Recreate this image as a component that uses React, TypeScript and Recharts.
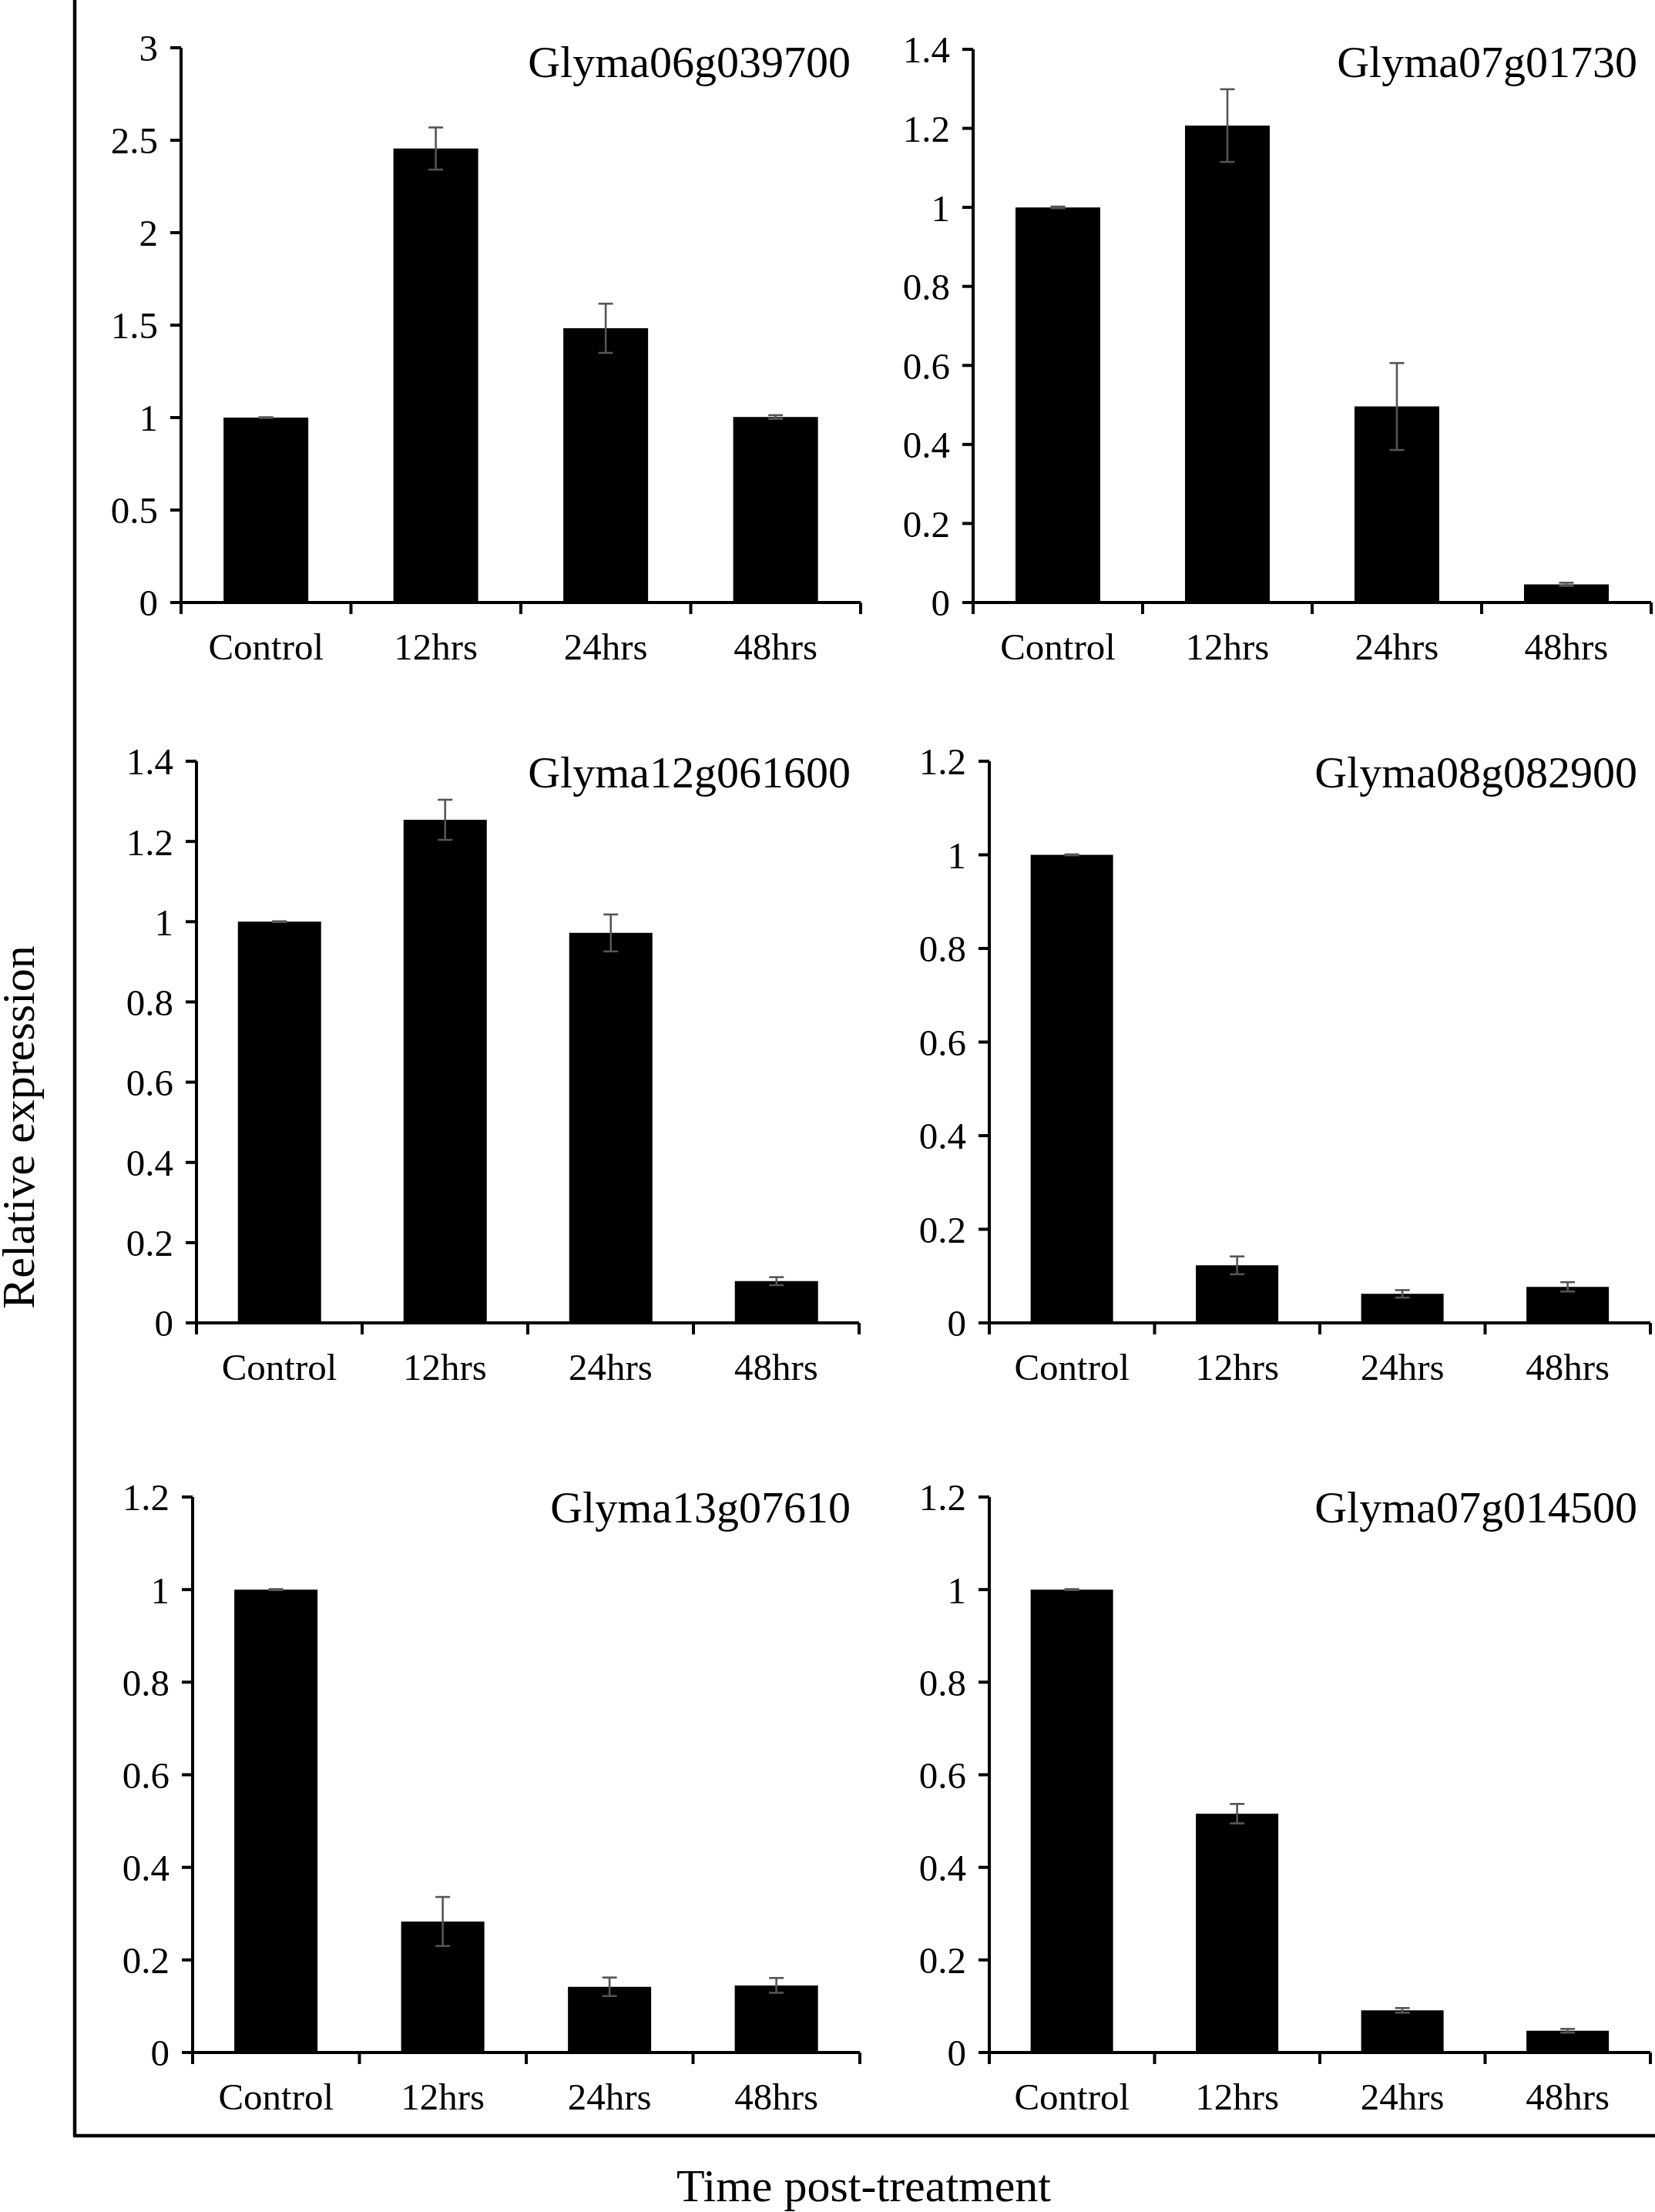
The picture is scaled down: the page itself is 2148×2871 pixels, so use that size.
import React from 'react'
import { Bar, BarChart, ErrorBar, XAxis, YAxis } from 'recharts'

const FONT = "'Liberation Serif', 'Times New Roman', serif"

const timepoints = ['Control', '12hrs', '24hrs', '48hrs']

const ticks30 = [0, 0.5, 1, 1.5, 2, 2.5, 3]
const ticks14 = [0, 0.2, 0.4, 0.6, 0.8, 1, 1.2, 1.4]
const ticks12 = [0, 0.2, 0.4, 0.6, 0.8, 1, 1.2]

const glyma06g039700 = [1.0, 2.455, 1.483, 1.003]
const glyma06g039700Err = [0.002, 0.114, 0.133, 0.01]

const glyma07g01730 = [1.0, 1.207, 0.496, 0.046]
const glyma07g01730Err = [0.002, 0.092, 0.11, 0.004]

const glyma12g061600 = [1.0, 1.254, 0.972, 0.104]
const glyma12g061600Err = [0.001, 0.05, 0.046, 0.01]

const glyma08g082900 = [1.0, 0.123, 0.062, 0.077]
const glyma08g082900Err = [0.001, 0.019, 0.008, 0.01]

const glyma13g07610 = [1.0, 0.283, 0.142, 0.145]
const glyma13g07610Err = [0.001, 0.053, 0.02, 0.016]

const glyma07g014500 = [1.0, 0.516, 0.091, 0.047]
const glyma07g014500Err = [0.001, 0.021, 0.005, 0.004]

// page geometry of each panel: y axis x, end of x axis, top tick y, zero line y
const panels = [
  { gene: 'Glyma06g039700', values: glyma06g039700, errors: glyma06g039700Err, ticks: ticks30, axis: 235, end: 1117, top: 62, zero: 782, titleX: 1104, titleY: 100 },
  { gene: 'Glyma07g01730', values: glyma07g01730, errors: glyma07g01730Err, ticks: ticks14, axis: 1263, end: 2143, top: 64, zero: 782, titleX: 2125, titleY: 100 },
  { gene: 'Glyma12g061600', values: glyma12g061600, errors: glyma12g061600Err, ticks: ticks14, axis: 255, end: 1115, top: 988, zero: 1717, titleX: 1104, titleY: 1022 },
  { gene: 'Glyma08g082900', values: glyma08g082900, errors: glyma08g082900Err, ticks: ticks12, axis: 1284, end: 2142, top: 988, zero: 1717, titleX: 2125, titleY: 1022 },
  { gene: 'Glyma13g07610', values: glyma13g07610, errors: glyma13g07610Err, ticks: ticks12, axis: 250, end: 1116, top: 1943, zero: 2664, titleX: 1104, titleY: 1976 },
  { gene: 'Glyma07g014500', values: glyma07g014500, errors: glyma07g014500Err, ticks: ticks12, axis: 1284, end: 2142, top: 1943, zero: 2664, titleX: 2125, titleY: 1976 },
]

const AXIS = { stroke: '#000', strokeWidth: 4 }
const YW = 160
const TOP = 40
const XH = 110
const RIGHT = 4

// Excel-style category axis: ticks sit on the band edges, labels in the middle
function CategoryTick({ x, y, payload, index, half, last }: any) {
  return (
    <g>
      <line x1={x - half} x2={x - half} y1={y} y2={y + 15} {...AXIS} />
      {index === last && <line x1={x + half} x2={x + half} y1={y} y2={y + 15} {...AXIS} />}
      <text x={x} y={y + 74} textAnchor="middle" fontSize={49} fontFamily={FONT} fill="#000">
        {payload.value}
      </text>
    </g>
  )
}

function Panel({ p }: any) {
  const data = timepoints.map((t, i) => ({ time: t, value: p.values[i], err: p.errors[i] }))
  const plotW = p.end - p.axis
  const plotH = p.zero - p.top
  const half = plotW / timepoints.length / 2
  return (
    <div style={{ position: 'absolute', left: p.axis - YW, top: p.top - TOP }}>
      <BarChart
        width={YW + plotW + RIGHT}
        height={TOP + plotH + XH}
        data={data}
        margin={{ top: TOP, right: RIGHT, left: 0, bottom: 0 }}
        barCategoryGap="25%"
      >
        <XAxis
          dataKey="time"
          interval={0}
          height={XH}
          tickSize={0}
          tickMargin={0}
          tickLine={false}
          axisLine={AXIS}
          tick={(props: any) => <CategoryTick {...props} half={half} last={timepoints.length - 1} />}
        />
        <YAxis
          width={YW}
          domain={[0, p.ticks[p.ticks.length - 1]]}
          ticks={p.ticks}
          interval={0}
          tickSize={14}
          tickMargin={16}
          axisLine={AXIS}
          tickLine={AXIS}
          tick={{ fill: '#000', fontSize: 49, fontFamily: FONT }}
        />
        <Bar dataKey="value" fill="#000" isAnimationActive={false}>
          <ErrorBar dataKey="err" direction="y" width={9.5} stroke="#555555" strokeWidth={2.6} />
        </Bar>
      </BarChart>
    </div>
  )
}

export default function App() {
  return (
    <div style={{ position: 'absolute', left: 0, top: 0, width: 2148, height: 2871, overflow: 'hidden', background: '#fff' }}>
      {panels.map((p) => (
        <Panel key={p.gene} p={p} />
      ))}
      <svg width={2148} height={2871} style={{ position: 'absolute', left: 0, top: 0, pointerEvents: 'none' }}>
        <line x1={97} x2={97} y1={0} y2={2772} stroke="#000" strokeWidth={4.5} />
        <line x1={95} x2={2148} y1={2772} y2={2772} stroke="#000" strokeWidth={4.5} />
        {panels.map((p) => (
          <text key={p.gene} x={p.titleX} y={p.titleY} textAnchor="end" fontSize={58} fontFamily={FONT} fill="#000">
            {p.gene}
          </text>
        ))}
        <text x={1121} y={2857} textAnchor="middle" fontSize={60} fontFamily={FONT} fill="#000">
          Time post-treatment
        </text>
        <text
          x={0}
          y={0}
          transform="translate(44,1463) rotate(-90)"
          textAnchor="middle"
          fontSize={60}
          fontFamily={FONT}
          fill="#000"
        >
          Relative expression
        </text>
      </svg>
    </div>
  )
}
